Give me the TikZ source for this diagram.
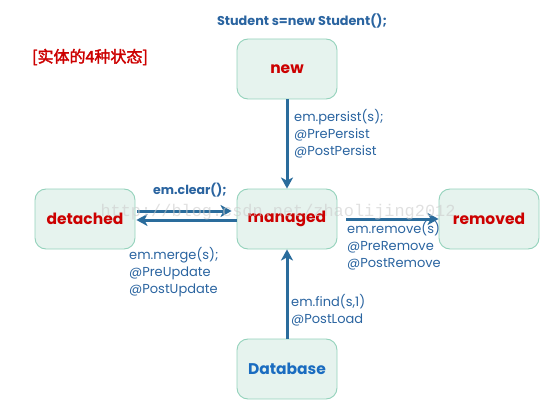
\documentclass[tikz,border=0pt]{standalone}
\usepackage{fontspec}
\setmainfont{Poppins}
\newfontfamily\cjk[AutoFakeBold=2]{Noto Sans CJK SC}
\newfontfamily\wmfont{Liberation Mono}
\usetikzlibrary{arrows.meta}
\definecolor{boxfill}{HTML}{E6F3EE}
\definecolor{boxline}{HTML}{93D2BB}
\definecolor{arrowc}{HTML}{2A6C9C}
\definecolor{labc}{HTML}{2A64A0}
\definecolor{redc}{HTML}{CC0000}
\definecolor{dbc}{HTML}{1A6CC0}
\tikzset{
  statebox/.style={draw=boxline, fill=boxfill, line width=0.9pt, rounded corners=11pt,
    minimum width=100pt, minimum height=60pt, inner sep=0pt,
    font=\fontsize{15.5}{18}\selectfont\bfseries, text=redc},
  conn/.style={draw=arrowc, line width=3pt, -{Stealth[length=11pt,width=12pt,inset=3pt]}},
  lab/.style={text=labc, inner sep=0pt, align=left, anchor=north west,
    font=\fontsize{13}{17}\selectfont}
}
\begin{document}
\begin{tikzpicture}[x=1pt,y=-1pt]
\useasboundingbox (0,0) rectangle (541,401);
\node[statebox] (new) at (287,69) {new};
\node[statebox] (managed) at (287,219) {managed};
\node[statebox] (detached) at (85,219) {detached};
\node[statebox] (removed) at (489,219) {removed};
\node[statebox, text=dbc] (db) at (287,369) {Database};

\node[text=labc, font=\fontsize{12.8}{14}\selectfont\bfseries, inner sep=0pt] (title) at (302,21) {Student s=new Student();};
\node[text=redc, font=\fontsize{16}{18}\selectfont\bfseries\cjk, inner sep=0pt] (heading) at (90,57) {[实体的4种状态]};

\draw[conn] (new.south) -- (managed.north);
\draw[conn] (db.north) -- (managed.south);
\draw[conn] ([xshift=9pt]managed.east) -- (removed.west);
\coordinate (ua) at ([xshift=2pt,yshift=8pt]detached.east);
\coordinate (ub) at ([xshift=-5pt,yshift=8pt]managed.west);
\draw[conn] (ua) -- (ub);
\coordinate (la) at ([yshift=-1pt]managed.west);
\coordinate (lb) at ([xshift=1pt,yshift=-1pt]detached.east);
\draw[conn] (la) -- (lb);

\node[text=labc, font=\fontsize{12.5}{14}\selectfont\bfseries, inner sep=0pt] (clear) at (190,190) {em.clear();};
\node[lab] (persist) at (294,109) {em.persist(s);\\@PrePersist\\@PostPersist};
\node[lab] (merge) at (129,247) {em.merge(s);\\@PreUpdate\\@PostUpdate};
\node[lab] (remove) at (347,221) {em.remove(s)\\@PreRemove\\@PostRemove};
\node[lab] (find) at (291,294) {em.find(s,1)\\@PostLoad};

\node[text=gray!40, opacity=0.6, font=\fontsize{16.9}{18}\selectfont\wmfont, inner sep=0pt] (wm) at (278,212) {http://blog.csdn.net/zhaolijing2012};
\end{tikzpicture}
\end{document}
